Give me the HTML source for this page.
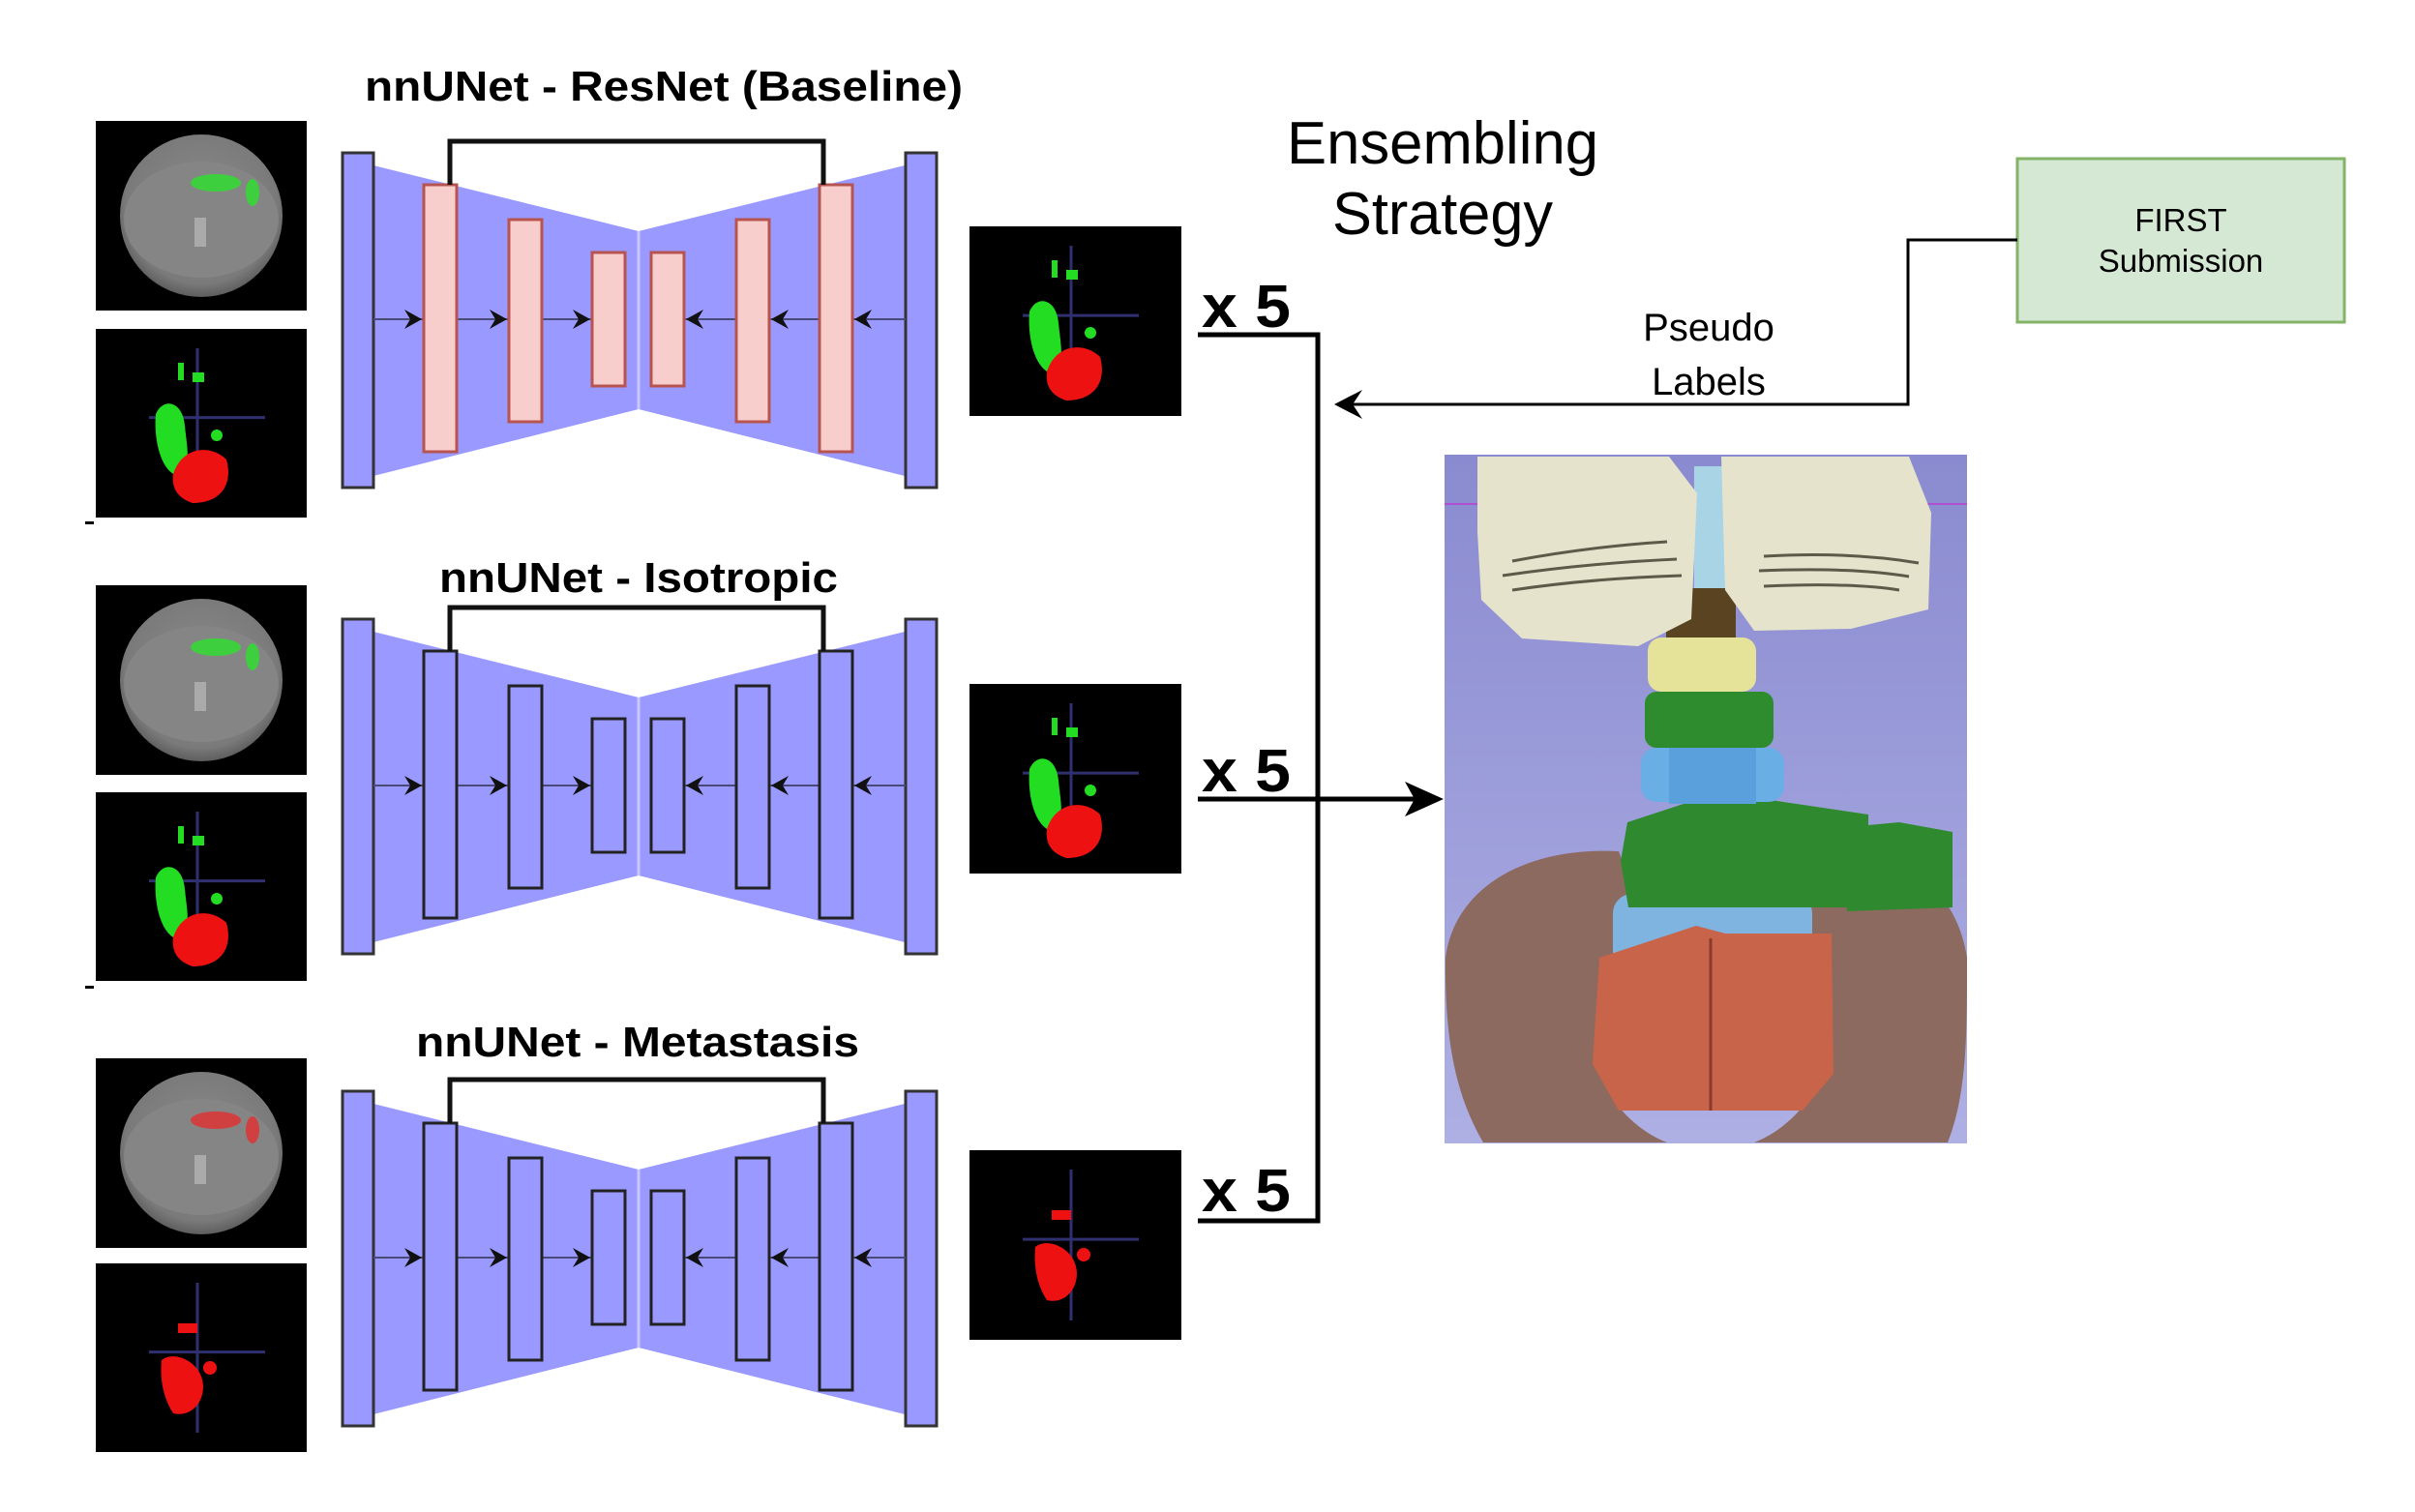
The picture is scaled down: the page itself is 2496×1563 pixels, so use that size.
<!DOCTYPE html>
<html><head><meta charset="utf-8"><style>
html,body{margin:0;padding:0;background:#fff;}
svg{display:block;}
text{font-family:"Liberation Sans",sans-serif;}
</style></head><body>
<svg id="fig" width="2496" height="1563" viewBox="0 0 2496 1563" xmlns="http://www.w3.org/2000/svg">
<defs>
<radialGradient id="ctg" cx="0.5" cy="0.45" r="0.55"><stop offset="0" stop-color="#8c8c8c"/><stop offset="0.85" stop-color="#7a7a7a"/><stop offset="1" stop-color="#5e5e5e"/></radialGradient>
<linearGradient id="bg3d" x1="0" y1="0" x2="0" y2="1"><stop offset="0" stop-color="#8a8ad0"/><stop offset="1" stop-color="#aeb0e4"/></linearGradient>
<marker id="arrowOpen" markerWidth="14" markerHeight="14" refX="2" refY="7" orient="auto" markerUnits="userSpaceOnUse"><path d="M14,0 L2,7 L14,14 L8,7 Z" fill="#000"/></marker>
</defs>

<!-- titles -->
<text x="686" y="104" font-size="44" font-weight="bold" text-anchor="middle" textLength="618" lengthAdjust="spacingAndGlyphs">nnUNet - ResNet (Baseline)</text>
<text x="660" y="612" font-size="44" font-weight="bold" text-anchor="middle" textLength="412" lengthAdjust="spacingAndGlyphs">nnUNet - Isotropic</text>
<text x="659" y="1092" font-size="44" font-weight="bold" text-anchor="middle" textLength="458" lengthAdjust="spacingAndGlyphs">nnUNet - Metastasis</text>

<g id="blocks"></g>
<g id="thumbs"></g>

<!-- x5 labels and connectors -->
<text x="1242" y="338" font-size="62" font-weight="bold" textLength="92" lengthAdjust="spacingAndGlyphs">x 5</text>
<text x="1242" y="818" font-size="62" font-weight="bold" textLength="92" lengthAdjust="spacingAndGlyphs">x 5</text>
<text x="1242" y="1252" font-size="62" font-weight="bold" textLength="92" lengthAdjust="spacingAndGlyphs">x 5</text>
<g stroke="#000" stroke-width="5" fill="none">
<path d="M1238,346 H1362 V1262 H1238"/>
<path d="M1238,826 H1468"/>
</g>
<path d="M1492,826 L1452,808 L1462,826 L1452,844 Z" fill="#000"/>

<text x="1491" y="169" font-size="62" text-anchor="middle" textLength="322" lengthAdjust="spacingAndGlyphs">Ensembling</text>
<text x="1491" y="242" font-size="62" text-anchor="middle" textLength="228" lengthAdjust="spacingAndGlyphs">Strategy</text>

<rect x="2085" y="164" width="338" height="169" fill="#d5e8d4" stroke="#82b366" stroke-width="3"/>
<text x="2254" y="239" font-size="33" text-anchor="middle">FIRST</text>
<text x="2254" y="281" font-size="33" text-anchor="middle">Submission</text>
<path d="M2085,248 H1972 V418 H1384" stroke="#000" stroke-width="3" fill="none"/>
<path d="M1379,418 L1408,403 L1398,418 L1408,433 Z" fill="#000"/>
<text x="1766" y="352" font-size="40" text-anchor="middle">Pseudo</text>
<text x="1766" y="408" font-size="40" text-anchor="middle">Labels</text>

<!-- 3D rendering -->
<g transform="translate(1493,470)">
<rect width="540" height="712" fill="url(#bg3d)"/>
<line x1="0" y1="51" x2="540" y2="51" stroke="#b050d0" stroke-width="2"/>
<path d="M1,520 C10,450 80,405 180,410 C200,460 190,520 160,600 C150,660 200,700 230,711 L40,711 C10,660 0,600 1,520 Z" fill="#8c6a60"/>
<path d="M540,520 C530,450 470,398 377,395 C350,460 360,520 390,600 C400,660 350,700 320,711 L520,711 C540,660 540,600 540,520 Z" fill="#8c6a60"/>
<rect x="174" y="454" width="206" height="80" rx="20" fill="#7fb3e0"/>
<path d="M189,380 L250,360 L330,356 L438,372 L438,468 L190,468 L182,420 Z" fill="#2f8a2f"/>
<path d="M416,385 L470,380 L525,390 L525,468 L416,472 Z" fill="#2f8a2f"/>
<path d="M160,520 L260,487 L290,495 L400,495 L402,640 L370,678 L180,678 L153,630 Z" fill="#c8644a"/>
<line x1="275" y1="500" x2="275" y2="678" stroke="#8a3a2a" stroke-width="3"/>
<rect x="203" y="303" width="148" height="56" rx="16" fill="#6aaee6"/>
<rect x="232" y="303" width="90" height="58" fill="#5aa0dc"/>
<rect x="207" y="245" width="133" height="58" rx="12" fill="#2e8b2e"/>
<rect x="210" y="189" width="112" height="56" rx="14" fill="#e5e39a"/>
<rect x="229" y="138" width="72" height="51" fill="#5a4320"/>
<rect x="258" y="12" width="32" height="126" fill="#a8d4e6"/>
<path d="M34,2 L232,2 L261,40 L255,170 L200,198 L80,190 L38,150 L34,80 Z" fill="#e6e3cc"/>
<path d="M286,2 L480,2 L503,60 L500,160 L420,180 L320,182 L290,140 Z" fill="#e6e3cc"/>
<g stroke="#3a3a2a" stroke-width="3" fill="none" opacity="0.8">
<path d="M70,110 Q150,95 230,90"/><path d="M60,125 Q150,112 240,108"/><path d="M70,140 Q150,128 245,125"/>
<path d="M330,105 Q420,100 490,112"/><path d="M325,120 Q420,116 480,126"/><path d="M330,136 Q420,132 470,140"/>
</g>
</g>

<rect x="88" y="539" width="9" height="3" fill="#000"/>
<rect x="88" y="1019" width="9" height="3" fill="#000"/>
</svg>
<script>
// Layout arrays for the U-Net diagram
const blockOffsets = [0, 482, 970];
const blockStyles = ['pink', 'blue', 'blue'];
const encoderBarX = [438, 526, 612];
const decoderBarX = [673, 761, 847];
const barTops = [191, 227, 261];
const barBottoms = [467, 436, 399];
// input thumbnail rows: [ctTop, segTop], and label colour
const inputRows = [[125, 340], [605, 819], [1094, 1306]];
const rowColours = ['green', 'green', 'red'];
const outputTops = [234, 707, 1189];

const NS = 'http://www.w3.org/2000/svg';
function mk(tag, attrs, parent) {
  const e = document.createElementNS(NS, tag);
  for (const k in attrs) e.setAttribute(k, attrs[k]);
  parent.appendChild(e);
  return e;
}
const blocks = document.getElementById('blocks');
blockOffsets.forEach((dy, bi) => {
  const g = mk('g', {transform: 'translate(0,' + dy + ')'}, blocks);
  
  
  mk('polygon', {points: '386,171 660,239 660,423 386,492', fill: '#9999ff'}, g);
  mk('polygon', {points: '660,239 935,171 935,492 660,423', fill: '#9999ff'}, g);
  mk('line', {x1: 660, y1: 239, x2: 660, y2: 423, stroke: '#c8c8ff', 'stroke-width': 3}, g);
  const lb = mk('rect', {x: 354, y: 158, width: 32, height: 346, fill: '#9999ff', stroke: '#333', 'stroke-width': 3}, g);
  
  
  const rb = mk('rect', {x: 936, y: 158, width: 32, height: 346, fill: '#9999ff', stroke: '#333', 'stroke-width': 3}, g);
  
  
  const pink = blockStyles[bi] === 'pink';
  const fill = pink ? '#f8cecc' : '#9999ff';
  const stroke = pink ? '#b85450' : '#222';
  // arrows
  const ay = 330;
  const segs = [[386, encoderBarX[0], 1], [encoderBarX[0] + 34, encoderBarX[1], 1], [encoderBarX[1] + 34, encoderBarX[2], 1],
                [936, decoderBarX[2] + 34, -1], [decoderBarX[2], decoderBarX[1] + 34, -1], [decoderBarX[1], decoderBarX[0] + 34, -1]];
  segs.forEach((s, si) => {
    const l = mk('line', {x1: s[0], y1: ay, x2: s[1], y2: ay, stroke: '#4a4a7a', 'stroke-width': 2}, g);
    
    
    const tx = s[1] - s[2] * 2;
    const d = s[2];
    mk('path', {d: 'M' + tx + ',' + ay + ' L' + (tx - d * 18) + ',' + (ay - 10) + ' L' + (tx - d * 12) + ',' + ay + ' L' + (tx - d * 18) + ',' + (ay + 10) + ' Z', fill: '#111'}, g);
  });
  encoderBarX.forEach((x, i) => {
    const r = mk('rect', {x: x, y: barTops[i], width: 34, height: barBottoms[i] - barTops[i], fill: fill, stroke: stroke, 'stroke-width': 3}, g);
    
    
  });
  decoderBarX.forEach((x, i) => {
    const j = 2 - i;
    const r = mk('rect', {x: x, y: barTops[j], width: 34, height: barBottoms[j] - barTops[j], fill: fill, stroke: stroke, 'stroke-width': 3}, g);
    
    
  });
  const sk = mk('path', {d: 'M465,' + barTops[0] + ' V146 H851 V' + barTops[0], stroke: '#111', 'stroke-width': 5, fill: 'none'}, g);
  
  
});

const thumbs = document.getElementById('thumbs');
function ctSlice(x, y, col, name) {
  const g = mk('g', {transform: 'translate(' + x + ',' + y + ')'}, thumbs);
  
  
  mk('rect', {width: 218, height: 196, fill: '#000'}, g);
  mk('ellipse', {cx: 109, cy: 98, rx: 84, ry: 84, fill: 'url(#ctg)'}, g);
  mk('ellipse', {cx: 109, cy: 102, rx: 80, ry: 60, fill: '#858585'}, g);
  mk('rect', {x: 102, y: 100, width: 12, height: 30, fill: '#aaa'}, g);
  const c = col === 'green' ? '#3ecf3e' : '#d04040';
  mk('ellipse', {cx: 124, cy: 64, rx: 26, ry: 9, fill: c}, g);
  mk('ellipse', {cx: 162, cy: 74, rx: 7, ry: 14, fill: c}, g);
}
function seg(x, y, col, name, w, h) {
  const g = mk('g', {transform: 'translate(' + x + ',' + y + ')'}, thumbs);
  
  
  mk('rect', {width: w, height: h, fill: '#000'}, g);
  mk('line', {x1: 55, y1: h * 0.47, x2: 175, y2: h * 0.47, stroke: '#303070', 'stroke-width': 3}, g);
  mk('line', {x1: 105, y1: 20, x2: 105, y2: h - 20, stroke: '#303070', 'stroke-width': 3}, g);
  if (col === 'green') {
    mk('path', {d: 'M62,88 C70,70 90,75 92,100 C95,130 100,140 80,150 C65,140 60,110 62,88 Z', fill: '#22dd22'}, g);
    mk('rect', {x: 85, y: 35, width: 6, height: 18, fill: '#22dd22'}, g);
    mk('rect', {x: 100, y: 45, width: 12, height: 10, fill: '#22dd22'}, g);
    mk('circle', {cx: 125, cy: 110, r: 6, fill: '#22dd22'}, g);
    mk('path', {d: 'M80,150 C90,120 120,120 135,135 C142,160 130,180 100,180 C85,175 78,165 80,150 Z', fill: '#ee1111'}, g);
  } else {
    mk('path', {d: 'M68,100 C80,90 105,100 110,120 C115,140 100,160 80,155 C70,140 66,120 68,100 Z', fill: '#ee1111'}, g);
    mk('rect', {x: 85, y: 62, width: 20, height: 10, fill: '#ee1111'}, g);
    mk('circle', {cx: 118, cy: 108, r: 7, fill: '#ee1111'}, g);
  }
}
inputRows.forEach((r, i) => {
  ctSlice(99, r[0], rowColours[i], 'ct-slice-' + (i + 1));
  seg(99, r[1], rowColours[i], 'input-mask-' + (i + 1), 218, 195);
});
outputTops.forEach((t, i) => {
  seg(1002, t, rowColours[i], 'prediction-' + (i + 1), 219, 196);
});
</script>
</body></html>
